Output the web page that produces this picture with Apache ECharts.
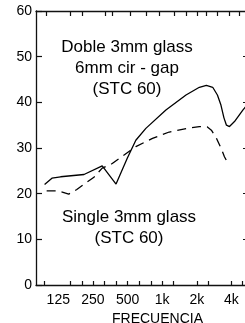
<!DOCTYPE html>
<html>
<head>
<meta charset="utf-8">
<script src="https://cdn.jsdelivr.net/npm/echarts@6/dist/echarts.min.js"></script>
<style>
html, body { margin: 0; padding: 0; background: #fff; }
#chart { width: 245px; height: 323px; }
</style>
</head>
<body>
<div id="chart"></div>
<script>
// valores: frecuencia (Hz) y nivel (dB)
const dobleFreq = [95, 110, 131, 209, 301, 397, 498, 590, 721, 1077, 1610, 2104, 2421, 2748, 3019, 3240, 3441, 3618, 3843, 4249, 5020, 5300];
const dobleDb = [22.0, 23.4, 23.7, 24.2, 26.1, 22.1, 27.8, 31.7, 34.3, 38.3, 41.6, 43.3, 43.7, 43.3, 41.6, 39.4, 36.6, 35.0, 34.7, 35.8, 38.3, 39.0];

const singleFreq = [99, 124, 154, 181, 213, 255, 301, 368, 590, 823, 1151, 1653, 2104, 2470, 2676, 2942, 3252, 3475, 3785];
const singleDb = [20.6, 20.6, 19.9, 20.9, 22.2, 23.6, 25.6, 26.6, 30.3, 32.1, 33.5, 34.3, 34.7, 34.6, 33.9, 32.3, 29.9, 28.1, 26.3];

const labelFreq = [125, 250, 500, 1000, 2000, 4000];
const labelText = ['125', '250', '500', '1k', '2k', '4k'];
const bottomTicks = [95, 160, 200, 250, 315, 400, 500, 630, 800, 1000, 1250, 2000, 2500, 4000, 5000];
const topTicks = [98, 160, 200, 318, 368, 526, 721, 937, 1273, 1610, 2034, 2435, 3038, 3843, 4700];

const textDoble = 'Doble 3mm glass\n6mm cir - gap\n(STC 60)';
const textSingle = 'Single 3mm glass\n(STC 60)';

// eje x en octavas desde 125 Hz
function oct(f) {
	return Math.log2(f / 125);
}
function toPoints(freqs, dbs) {
	return freqs.map((f, i) => [oct(f), dbs[i]]);
}

const font = 'Liberation Sans, Arial, Helvetica, sans-serif';
const lineColor = '#111';

var myChart = echarts.init(document.getElementById('chart'));
var option = {
	animation: false,
	grid: { left: 36, right: -1, top: 11, bottom: 38, outerBoundsMode: 'none' },
	xAxis: [
		{
			type: 'value',
			position: 'bottom',
			min: oct(80),
			max: oct(5350),
			axisLine: { show: true, onZero: false, lineStyle: { color: lineColor, width: 1.3 } },
			axisTick: {
				show: true,
				inside: true,
				length: 4,
				customValues: bottomTicks.map(oct),
				lineStyle: { color: lineColor, width: 1.2 },
			},
			axisLabel: {
				customValues: labelFreq.map(oct),
				formatter: (v) => {
					let i = labelFreq.findIndex((f) => Math.abs(oct(f) - v) < 0.01);
					return i >= 0 ? labelText[i] : '';
				},
				color: '#000',
				fontFamily: font,
				fontSize: 14,
				margin: 8,
			},
			splitLine: { show: false },
			name: 'FRECUENCIA',
			nameLocation: 'middle',
			nameGap: 17,
			nameTextStyle: { color: '#000', fontFamily: font, fontSize: 14, padding: [0, 0, 0, 33] },
		},
		{
			type: 'value',
			position: 'top',
			min: oct(80),
			max: oct(5350),
			axisLine: { show: true, onZero: false, lineStyle: { color: lineColor, width: 1.3 } },
			axisTick: {
				show: true,
				inside: true,
				length: 5,
				customValues: topTicks.map(oct),
				lineStyle: { color: lineColor, width: 1.2 },
			},
			axisLabel: { show: false },
			splitLine: { show: false },
		},
	],
	yAxis: [
		{
			type: 'value',
			position: 'left',
			min: 0,
			max: 60,
			interval: 10,
			axisLine: { show: true, onZero: false, lineStyle: { color: lineColor, width: 1.3 } },
			axisTick: { show: true, inside: true, length: 6, lineStyle: { color: lineColor, width: 1.2 } },
			axisLabel: { color: '#000', fontFamily: font, fontSize: 14, margin: 4 },
			splitLine: { show: false },
		},
		{
			type: 'value',
			position: 'right',
			min: 0,
			max: 60,
			interval: 10,
			// the right frame line falls just outside the picture, only ticks show
			axisLine: { show: false, onZero: false },
			axisTick: { show: true, inside: true, length: 3, lineStyle: { color: lineColor, width: 1.2 } },
			axisLabel: { show: false },
			splitLine: { show: false },
		},
	],
	graphic: [
		{
			type: 'text',
			x: 127,
			y: 68,
			style: {
				text: textDoble,
				font: '17px ' + font,
				fill: '#000',
				align: 'center',
				verticalAlign: 'middle',
				lineHeight: 21,
			},
		},
		{
			type: 'text',
			x: 129,
			y: 228,
			style: {
				text: textSingle,
				font: '17px ' + font,
				fill: '#000',
				align: 'center',
				verticalAlign: 'middle',
				lineHeight: 21,
			},
		},
	],
	series: [
		{
			name: 'Doble',
			type: 'line',
			xAxisIndex: 0,
			yAxisIndex: 0,
			showSymbol: false,
			data: toPoints(dobleFreq, dobleDb),
			lineStyle: { color: '#000', width: 1.3 },
		},
		{
			name: 'Single',
			type: 'line',
			xAxisIndex: 0,
			yAxisIndex: 0,
			showSymbol: false,
			data: toPoints(singleFreq, singleDb),
			lineStyle: { color: '#000', width: 1.3, type: [9, 6] },
		},
	],
};
option && myChart.setOption(option);
</script>
</body>
</html>
